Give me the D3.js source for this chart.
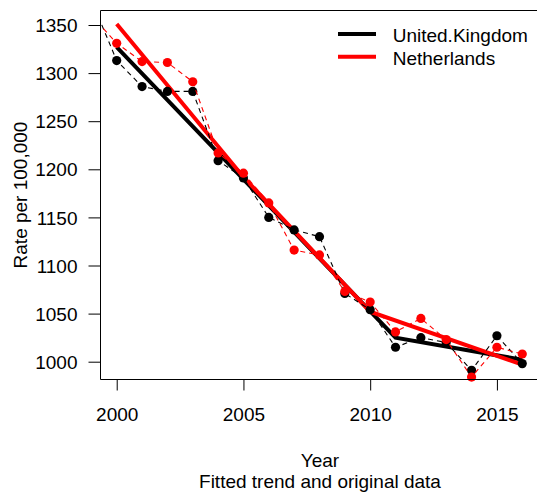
<!DOCTYPE html>
<html><head><meta charset="utf-8">
<script src="https://cdn.jsdelivr.net/npm/d3@7"></script>
<style>body{margin:0;background:#fff}svg{display:block}text{font-family:"Liberation Sans",Arial,sans-serif;font-size:19px;fill:#000}</style>
</head><body>
<script>
const years = [1999,2000,2001,2002,2003,2004,2005,2006,2007,2008,2009,2010,2011,2012,2013,2014,2015,2016];
const ukValues = [1376,1313,1286,1281,1281,1209,1191,1150,1137,1130,1071,1054,1015,1025,1020,991,1027,998];
const nlValues = [1360,1331,1312,1311,1291,1217,1196,1165,1116,1111,1073,1062,1031,1045,1023,984,1015,1008];
const ukFitYears = [2000,2011,2016];
const ukFitValues = [1327,1025,1002];
const nlFitYears = [2000,2005,2010,2016];
const nlFitValues = [1351,1192,1052,997];
const xTicks = [2000,2005,2010,2015];
const yTicks = [1000,1050,1100,1150,1200,1250,1300,1350];
const seriesNames = ["United.Kingdom","Netherlands"];
const seriesColors = ["#000000","#ff0000"];

const W=537,H=492, L=100.5, R=540, T=10.5, B=379.5;
const svg=d3.select("body").append("svg").attr("width",W).attr("height",H);
const x=d3.scaleLinear().domain([1999.341,2016.70]).range([100,540]);
const y=d3.scaleLinear().domain([1000,1350]).range([361.7,25]);

svg.append("defs").append("clipPath").attr("id","clip").append("rect")
  .attr("x",100).attr("y",0).attr("width",445).attr("height",H);

const g=svg.append("g").attr("clip-path","url(#clip)");
const line=d3.line();

// fitted lines
[[ukFitYears,ukFitValues,0],[nlFitYears,nlFitValues,1]].forEach(([ys,vs,i])=>{
  g.append("path").attr("d",line(ys.map((yr,j)=>[x(yr),y(vs[j])])))
   .attr("fill","none").attr("stroke",seriesColors[i]).attr("stroke-width",4);
});
// original data
[[ukValues,0],[nlValues,1]].forEach(([vs,i])=>{
  g.append("path").attr("d",line(years.map((yr,j)=>[x(yr),y(vs[j])])))
   .attr("fill","none").attr("stroke",seriesColors[i]).attr("stroke-width",1.1)
   .attr("stroke-dasharray","5,4");
  g.selectAll(null).data(years.map((yr,j)=>[yr,vs[j]])).enter().append("circle")
   .attr("cx",d=>x(d[0])).attr("cy",d=>y(d[1])).attr("r",4.6).attr("fill",seriesColors[i]);
});

// box
svg.append("path").attr("d",`M${R},${T}H${L}V${B}H${R}`).attr("fill","none").attr("stroke","#000").attr("stroke-width",1);

// axes
const ya=svg.append("g").attr("transform",`translate(${L},0)`)
  .call(d3.axisLeft(y).tickValues(yTicks).tickSize(12).tickPadding(11).tickFormat(d3.format("d")));
ya.select(".domain").remove();
ya.selectAll("line").attr("stroke","#000");
ya.selectAll("text").attr("dy","0.35em");

const xa=svg.append("g").attr("transform",`translate(0,${B})`)
  .call(d3.axisBottom(x).tickValues(xTicks).tickSize(11).tickFormat(d3.format("d")));
xa.select(".domain").remove();
xa.selectAll("line").attr("stroke","#000");
xa.selectAll("text").attr("y",41.2).attr("dy",null);
ya.attr("font-size",null).attr("font-family",null);
xa.attr("font-size",null).attr("font-family",null);

svg.append("text").attr("x",320).attr("y",467).attr("text-anchor","middle").text("Year");
svg.append("text").attr("x",320).attr("y",487.5).attr("text-anchor","middle").text("Fitted trend and original data");
svg.append("text").attr("transform","translate(26.5,195) rotate(-90)").attr("text-anchor","middle").text("Rate per 100,000");

// legend
seriesNames.forEach((n,i)=>{
  const yy=34+i*22.7;
  svg.append("line").attr("x1",338).attr("x2",376).attr("y1",yy).attr("y2",yy)
    .attr("stroke",seriesColors[i]).attr("stroke-width",4);
  svg.append("text").attr("x",392.7).attr("y",yy+7.9).text(n);
});
</script>
</body></html>
